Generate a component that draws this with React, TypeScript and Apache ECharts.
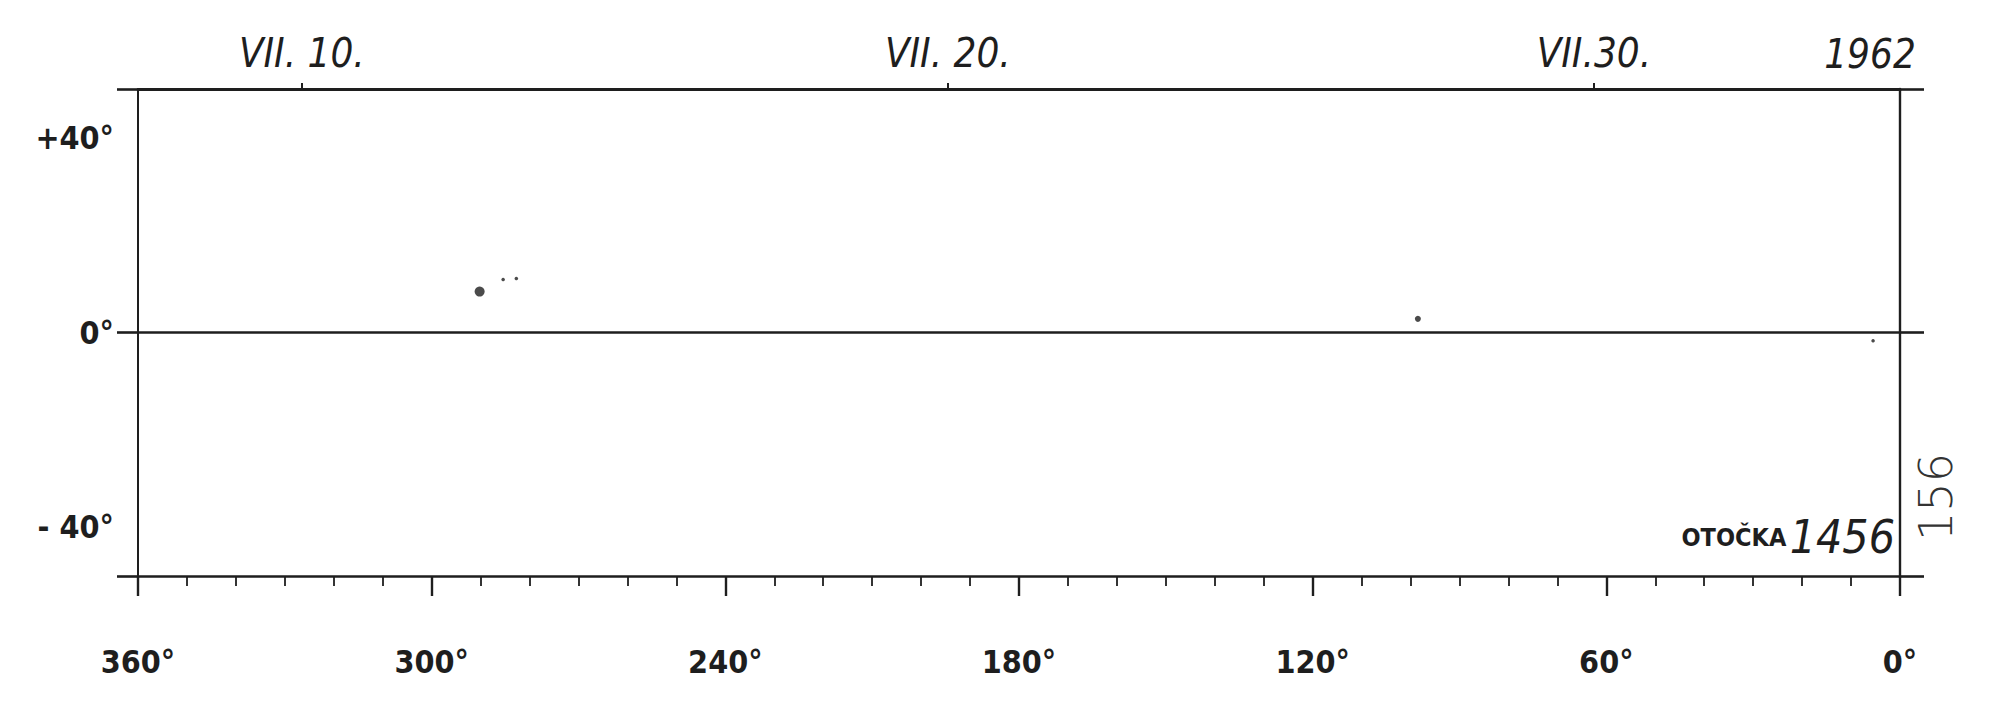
import React, { useEffect, useRef } from "react";
import * as echarts from "echarts";

// ---- data ----
const LON_LABELS = [360, 300, 240, 180, 120, 60, 0];
const LAT_LABELS = [40, 0, -40];
const LAT_LABEL_TEXT = ["+40°", "0°", "- 40°"];
const LAT_FRAME = [-50, 0, 50];
const DATE_DAYS = [10, 20, 30];
const DATE_LABELS = ["VII. 10.", "VII. 20.", "VII.30."];
const ROT_START_DAY = 7.464; // July day when Carrington rotation 1456 begins
const ROT_LENGTH = 27.275; // days
const YEAR_LABEL = "1962";
const ROTATION_WORD = "OTOČKA";
const ROTATION_NO = "1456";
const PAGE_NO = "156";

const BIG_SPOTS = [[290.2, 8.4]];
const MEDIUM_SPOTS = [[98.5, 2.8]];
const SMALL_SPOTS = [
  [285.4, 10.9],
  [282.7, 11.1],
  [5.5, -1.7],
];

const INK = "#1e1e1e";
const COND = '"DejaVu Sans Condensed", "Liberation Sans Narrow", "DejaVu Sans", sans-serif';

export default function App() {
  const ref = useRef<HTMLDivElement>(null);
  useEffect(() => {
    if (!ref.current) return;
    const chart = echarts.init(ref.current, undefined, { renderer: "svg" });
    const lineStyle = { color: INK, width: 2.6 };
    chart.setOption({
      animation: false,
      backgroundColor: "#ffffff",
      grid: { left: 138, right: 100, top: 89, bottom: 138, outerBoundsMode: "none" },
      xAxis: [
        {
          type: "value",
          position: "bottom",
          min: 0,
          max: 360,
          interval: 60,
          inverse: true,
          axisLine: { show: true, onZero: false, lineStyle },
          axisTick: { show: true, length: 20, lineStyle: { color: INK, width: 2.4 } },
          minorTick: { show: true, splitNumber: 6, length: 10, lineStyle: { color: INK, width: 1.8 } },
          splitLine: { show: false },
          minorSplitLine: { show: false },
          axisLabel: {
            customValues: LON_LABELS,
            formatter: (v: number) => `${v}°`,
            fontSize: 32,
            fontWeight: "bold",
            fontFamily: COND,
            color: INK,
            margin: 70,
          },
        },
        {
          type: "value",
          position: "top",
          min: ROT_START_DAY,
          max: ROT_START_DAY + ROT_LENGTH,
          axisLine: { show: true, onZero: false, lineStyle: { color: INK, width: 3 } },
          axisTick: { show: true, customValues: DATE_DAYS, length: 6, lineStyle: { color: INK, width: 2 } },
          splitLine: { show: false },
          axisLabel: {
            customValues: DATE_DAYS,
            formatter: (v: number) => DATE_LABELS[DATE_DAYS.indexOf(Math.round(v))] ?? "",
            fontSize: 40,
            fontStyle: "italic",
            fontFamily: COND,
            color: INK,
            margin: 16,
          },
        },
      ],
      yAxis: [
        {
          type: "value",
          position: "left",
          min: -50,
          max: 50,
          axisLine: { show: true, onZero: false, lineStyle: { color: INK, width: 2 } },
          axisTick: { show: true, customValues: LAT_FRAME, length: 21, lineStyle: { color: INK, width: 2.6 } },
          splitLine: { show: false },
          axisLabel: {
            customValues: LAT_LABELS,
            formatter: (v: number) => LAT_LABEL_TEXT[LAT_LABELS.indexOf(Math.round(v))] ?? "",
            fontSize: 32,
            fontWeight: "bold",
            fontFamily: COND,
            color: INK,
            margin: 24,
          },
        },
        {
          type: "value",
          position: "right",
          min: -50,
          max: 50,
          axisLine: { show: true, onZero: false, lineStyle: { color: INK, width: 2.4 } },
          axisTick: { show: true, customValues: LAT_FRAME, length: 24, lineStyle: { color: INK, width: 2.6 } },
          splitLine: { show: false },
          axisLabel: { show: false },
        },
      ],
      series: [
        {
          type: "scatter",
          xAxisIndex: 0,
          yAxisIndex: 0,
          data: BIG_SPOTS,
          symbol: "circle",
          symbolSize: 10,
          itemStyle: { color: INK },
          markLine: {
            silent: true,
            symbol: "none",
            label: { show: false },
            lineStyle: { color: INK, width: 2.6, type: "solid" },
            data: [{ yAxis: 0 }],
          },
        },
        {
          type: "scatter",
          xAxisIndex: 0,
          yAxisIndex: 0,
          data: MEDIUM_SPOTS,
          symbol: "circle",
          symbolSize: 6,
          itemStyle: { color: INK },
        },
        {
          type: "scatter",
          xAxisIndex: 0,
          yAxisIndex: 0,
          data: SMALL_SPOTS,
          symbol: "circle",
          symbolSize: 3.5,
          itemStyle: { color: INK },
        },
      ],
      graphic: [
        {
          type: "text",
          x: 1870,
          y: 54,
          style: {
            text: YEAR_LABEL,
            fill: INK,
            fontSize: 40,
            fontStyle: "italic",
            fontFamily: COND,
            align: "center",
            verticalAlign: "middle",
            textAlign: "center",
            textVerticalAlign: "middle",
          },
        },
        {
          type: "text",
          x: 1895,
          y: 560,
          style: {
            text: `{a|${ROTATION_WORD}} {b|${ROTATION_NO}}`,
            fill: INK,
            align: "right",
            verticalAlign: "bottom",
            textAlign: "right",
            textVerticalAlign: "bottom",
            rich: {
              a: { fontSize: 25, fontWeight: "bold", fontFamily: COND, fill: INK, color: INK },
              b: { fontSize: 46, fontStyle: "italic", fontFamily: COND, fill: INK, color: INK },
            },
          },
        },
        {
          type: "text",
          x: 1936,
          y: 497,
          rotation: Math.PI / 2,
          style: {
            text: PAGE_NO,
            fill: "#333",
            fontSize: 46,
            fontWeight: 200,
            fontFamily: '"DejaVu Sans", "Noto Sans", sans-serif',
            align: "center",
            verticalAlign: "middle",
            textAlign: "center",
            textVerticalAlign: "middle",
          },
        },
      ],
    });
    return () => chart.dispose();
  }, []);
  return (
    <div
      ref={ref}
      style={{ position: "absolute", left: 0, top: 0, width: 2000, height: 714, background: "#fff" }}
    />
  );
}
